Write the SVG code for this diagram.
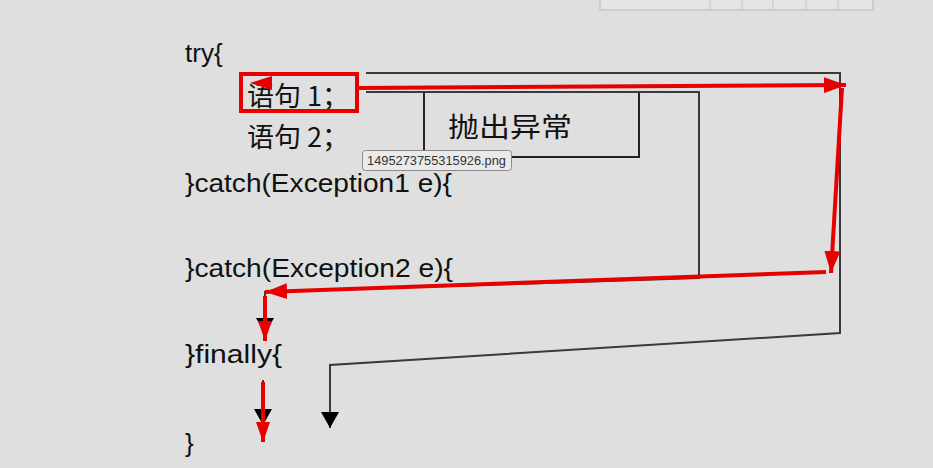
<svg xmlns="http://www.w3.org/2000/svg" width="933" height="468" viewBox="0 0 933 468">
<style>
.code{font-family:"Liberation Sans","Noto Sans CJK SC",sans-serif;font-size:26px;fill:#111}
.cjk{font-family:"Noto Sans CJK SC","Liberation Sans",sans-serif;font-size:27px;fill:#111}
.blk{fill:none;stroke:#3a3a3a;stroke-width:2}
.red{fill:none;stroke:#e60000;stroke-width:4}
.tip{font-family:"Liberation Sans",sans-serif;font-size:12px;fill:#333}
</style>
<defs>
<marker id="ra" markerUnits="userSpaceOnUse" markerWidth="22" markerHeight="16" refX="22" refY="8" orient="auto"><path d="M0,0 L22,8 L0,16 z" fill="#e60000"/></marker>
<marker id="rs" markerUnits="userSpaceOnUse" markerWidth="20" markerHeight="14" refX="20" refY="7" orient="auto"><path d="M0,0 L20,7 L0,14 z" fill="#e60000"/></marker>
<marker id="ba" markerUnits="userSpaceOnUse" markerWidth="16" markerHeight="18" refX="16" refY="9" orient="auto"><path d="M0,0 L16,9 L0,18 z" fill="#000"/></marker>
</defs>
<rect width="933" height="468" fill="#dedfde"/>
<g id="toolbar">
<rect x="600" y="-4" width="273" height="14" fill="#e4e6e5" stroke="#b8b8b8" stroke-width="1"/>
<path d="M710,0 V10 M742,0 V10 M773,0 V10 M806,0 V10 M838,0 V10" stroke="#c4c4c4" stroke-width="1"/>
</g>
<g id="code">
<text id="t-try" class="code" x="185" y="62">try{</text>
<text id="t-s1" class="cjk" x="247" y="106">语句 1；</text>
<text id="t-s2" class="cjk" x="247" y="147">语句 2；</text>
<text id="t-c1" class="code" x="185" y="192" textLength="267" lengthAdjust="spacingAndGlyphs">}catch(Exception1 e){</text>
<text id="t-c2" class="code" x="185" y="277" textLength="268" lengthAdjust="spacingAndGlyphs">}catch(Exception2 e){</text>
<text id="t-fin" class="code" x="185" y="363" textLength="97" lengthAdjust="spacingAndGlyphs">}finally{</text>
<text id="t-end" class="code" x="185" y="452">}</text>
</g>
<g id="throw-box">
<rect x="424" y="92" width="215" height="65" fill="none" stroke="#222" stroke-width="2"/>
<text class="cjk" x="448" y="137" font-size="31" textLength="124" lengthAdjust="spacingAndGlyphs">抛出异常</text>
</g>
<g id="connectors">
<path class="blk" d="M366,73 H840 V333 L330,365 V428" marker-end="url(#ba)"/>
<path class="blk" d="M366,92 H699 V278 L265,292 V334" marker-end="url(#ba)"/>
<path class="blk" d="M263,380 V425" marker-end="url(#ba)"/>
<rect x="241" y="74" width="116" height="37" class="red"/>
<path d="M250,83 L272,76 L272,90 z" fill="#e60000"/>
<path class="red" d="M357,88 L846,85" marker-end="url(#ra)"/>
<path class="red" d="M842,88 L831,273" marker-end="url(#ra)"/>
<path class="red" d="M826,272 L265,292" marker-end="url(#ra)"/>
<path class="red" d="M265,296 V341" marker-end="url(#rs)"/>
<path class="red" d="M263,382 V442" marker-end="url(#rs)"/>
</g>
<g id="tooltip">
<rect x="362.5" y="150.5" width="149" height="20" rx="3" fill="#eaeaea" stroke="#8a8a8a"/>
<text class="tip" x="367" y="165" textLength="139" lengthAdjust="spacingAndGlyphs">1495273755315926.png</text>
</g>
</svg>
